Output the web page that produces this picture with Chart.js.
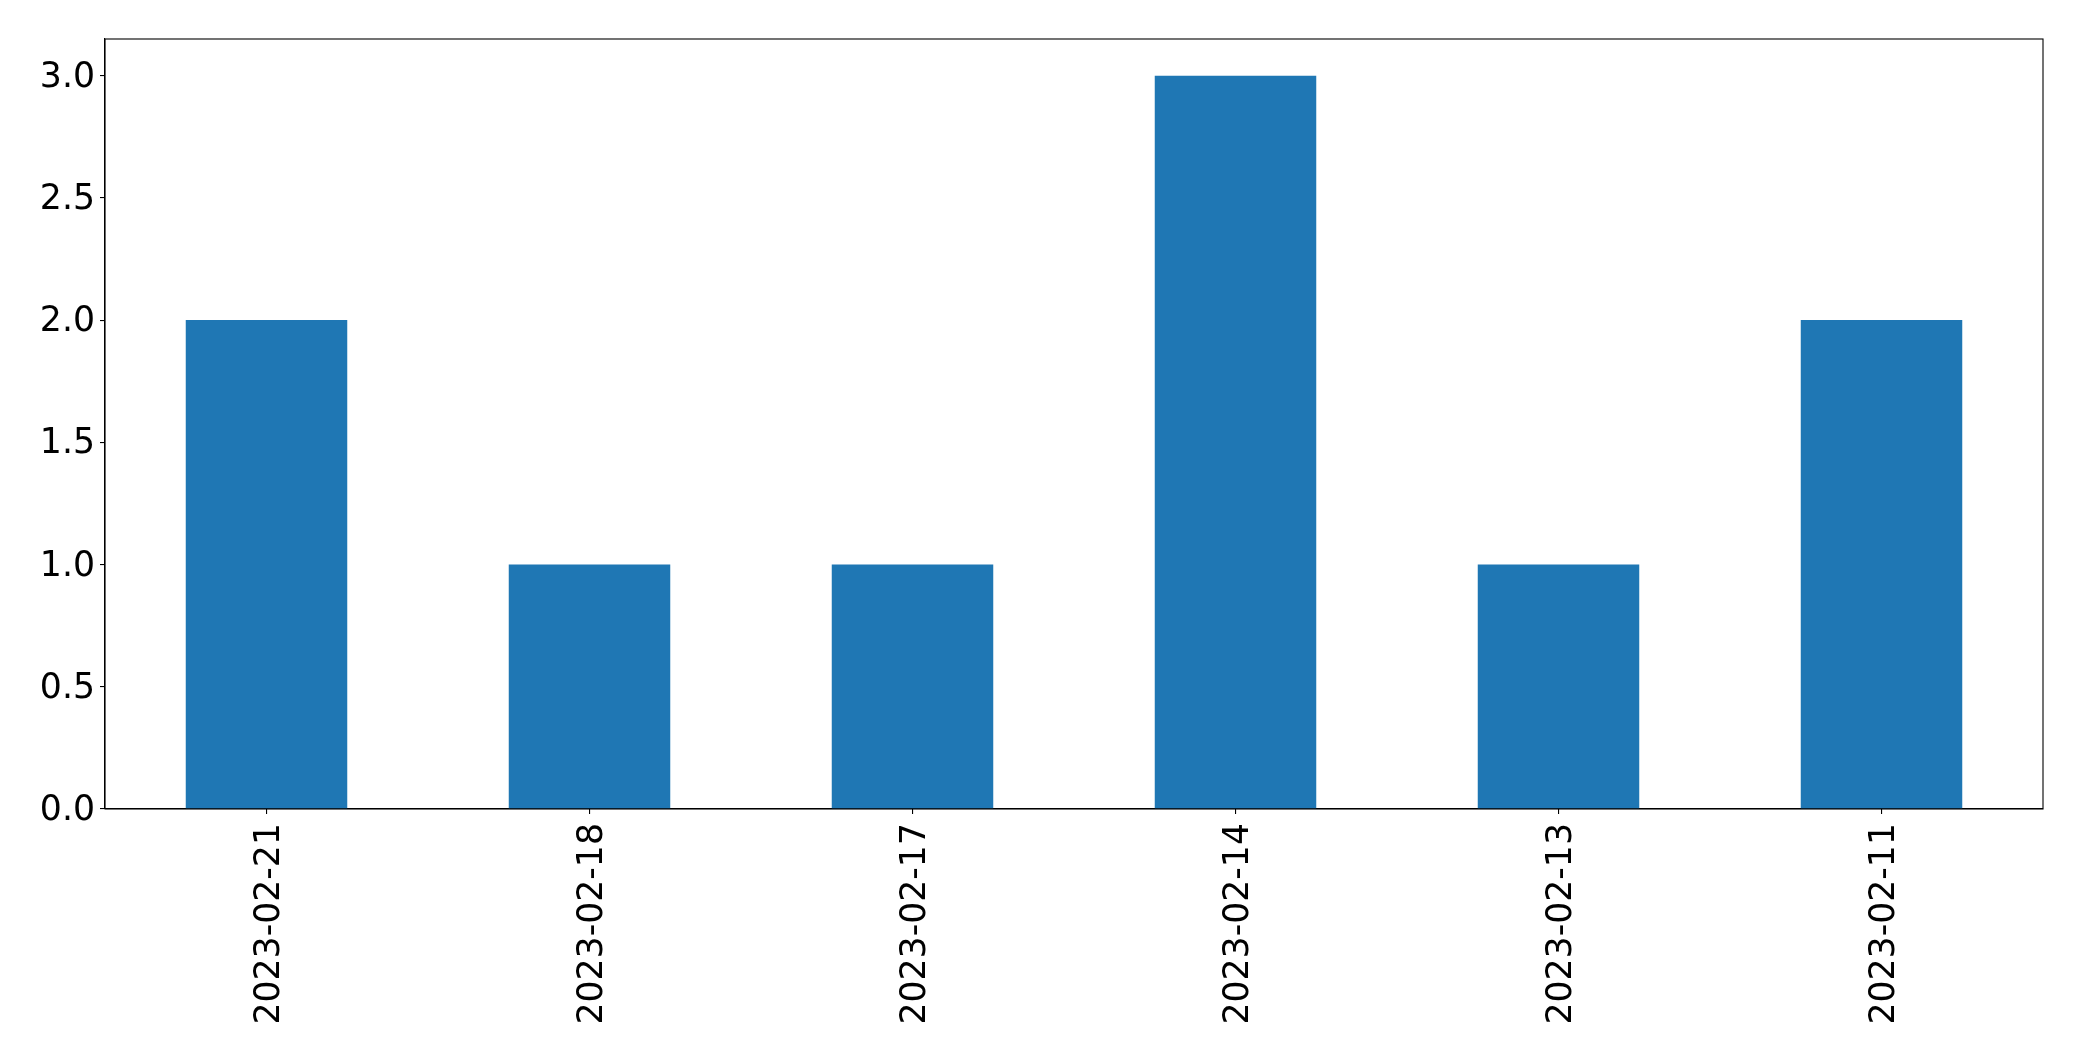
<!DOCTYPE html>
<html>
<head>
<meta charset="utf-8">
<script src="https://cdn.jsdelivr.net/npm/chart.js@4/dist/chart.umd.min.js"></script>
<style>
html,body{margin:0;padding:0;background:#fff;overflow:hidden;}
canvas{display:block;}
</style>
</head>
<body>
<canvas id="c" width="2082" height="1061"></canvas>
<script>
const categories = ["2023-02-21","2023-02-18","2023-02-17","2023-02-14","2023-02-13","2023-02-11"];
const counts = [2, 1, 1, 3, 1, 2];
const yTickValues = [0, 0.5, 1.0, 1.5, 2.0, 2.5, 3.0];

const frame = {
  id: 'frame',
  afterDraw(chart) {
    const a = chart.chartArea, ctx = chart.ctx;
    ctx.save();
    ctx.strokeStyle = '#000';
    ctx.lineWidth = 1.1;
    ctx.strokeRect(a.left, a.top, a.right - a.left, a.bottom - a.top);
    ctx.restore();
  }
};

const font = {family: "'DejaVu Sans', sans-serif", size: 34.7};

new Chart(document.getElementById('c'), {
  type: 'bar',
  data: {
    labels: categories,
    datasets: [{
      data: counts,
      backgroundColor: '#1f77b4',
      borderWidth: 0,
      categoryPercentage: 1.0,
      barPercentage: 0.5
    }]
  },
  options: {
    responsive: false,
    animation: false,
    devicePixelRatio: 1,
    layout: {padding: {top: 39, right: 39, left: 0, bottom: 0}},
    plugins: {legend: {display: false}, tooltip: {enabled: false}},
    scales: {
      x: {
        offset: true,
        grid: {display: true, drawOnChartArea: false, drawTicks: true, tickLength: 5, color: '#000', lineWidth: 1.1, offset: false},
        border: {display: true, color: '#000', width: 1.1},
        ticks: {color: '#000', font: font, maxRotation: 90, minRotation: 90, padding: 9, labelOffset: 3, autoSkip: false},
        afterFit(scale) { scale.height = 252; }
      },
      y: {
        min: 0,
        max: 3.15,
        grid: {display: true, drawOnChartArea: false, drawTicks: true, tickLength: 5, color: '#000', lineWidth: 1.1},
        border: {display: true, color: '#000', width: 1.1},
        ticks: {color: '#000', font: font, padding: 5, labelOffset: 2, callback: v => Number(v).toFixed(1)},
        afterBuildTicks(scale) { scale.ticks = yTickValues.map(v => ({value: v})); },
        afterFit(scale) { scale.width = 105; }
      }
    }
  },
  plugins: [frame]
});
</script>
</body>
</html>
